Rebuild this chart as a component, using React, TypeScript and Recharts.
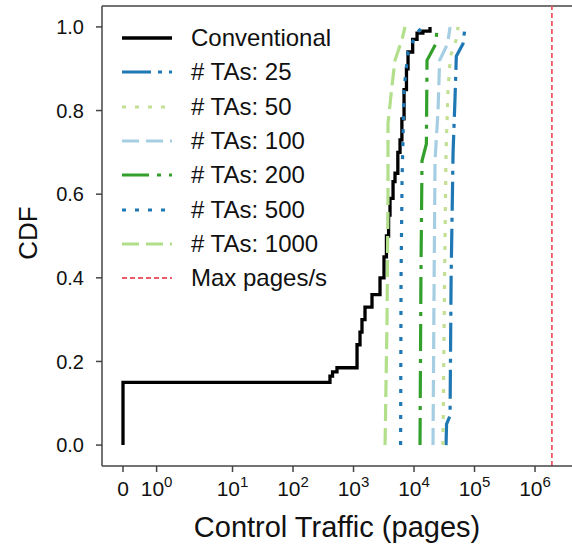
import { LineChart, Line, XAxis, YAxis, ReferenceLine, Legend } from 'recharts'

// symlog x axis (linthresh 2, linscale 1), done by hand since recharts has no symlog
const LINTHRESH = 2
const LINSCALE = 1 / 0.9
const symlog = (v: number) =>
  v <= LINTHRESH ? (v / LINTHRESH) * LINSCALE : LINSCALE + Math.log10(v / LINTHRESH)

const xTickValues = [0, 1, 10, 100, 1000, 10000, 100000, 1000000]
const xTickExponents = ['', '0', '1', '2', '3', '4', '5', '6']
const yTicks = [0, 0.2, 0.4, 0.6, 0.8, 1.0]
const maxPagesPerSec = 1.9e6

// [pages, cdf]
const conventional: [number, number][] = [
  [0, 0], [0, 0.15], [408, 0.165], [450, 0.175], [533, 0.185], [1143, 0.24], [1280, 0.27],
  [1380, 0.3], [1548, 0.33], [2020, 0.36], [2740, 0.4], [3190, 0.45], [3500, 0.5], [3800, 0.55],
  [4010, 0.59], [4500, 0.63], [4850, 0.65], [5400, 0.7], [5870, 0.73], [6300, 0.78],
  [6840, 0.85], [7500, 0.9], [7960, 0.94], [9500, 0.97], [11220, 0.985], [14000, 0.99], [18370, 1.0],
]
const tas25: [number, number][] = [
  [33800, 0], [34500, 0.05], [39400, 0.07], [41000, 0.4], [44200, 0.7], [47600, 0.83],
  [50000, 0.93], [64500, 0.96], [69700, 1.0],
]
const tas50: [number, number][] = [
  [30100, 0], [32000, 0.4], [33800, 0.7], [36500, 0.85], [40000, 0.93], [50000, 0.97], [53300, 1.0],
]
const tas100: [number, number][] = [
  [20600, 0], [21500, 0.4], [22240, 0.68], [24940, 0.8], [26500, 0.92], [36000, 0.96], [39400, 1.0],
]
const tas200: [number, number][] = [
  [12560, 0], [13000, 0.4], [13550, 0.68], [16000, 0.72], [16400, 0.92], [23000, 0.96], [24000, 1.0],
]
const tas500: [number, number][] = [
  [6000, 0], [6100, 0.4], [6340, 0.63], [6840, 0.85], [7960, 0.94], [11000, 0.985], [14000, 1.0],
]
const tas1000: [number, number][] = [
  [3320, 0], [3580, 0.3], [3716, 0.6], [3716, 0.77], [4330, 0.86], [4850, 0.92], [6340, 0.97], [7100, 1.0],
]

const series = [
  { name: 'Conventional', pts: conventional, color: '#000000', dash: undefined, width: 3.3, step: true },
  { name: '# TAs: 25', pts: tas25, color: '#1f78b4', dash: '29 7 4 7', width: 3.2, step: false },
  { name: '# TAs: 50', pts: tas50, color: '#c2df94', dash: '4 9', width: 3.2, step: false },
  { name: '# TAs: 100', pts: tas100, color: '#a6cee3', dash: '17 7', width: 3.2, step: false },
  { name: '# TAs: 200', pts: tas200, color: '#33a02c', dash: '27 8 4 8', width: 3.2, step: false },
  { name: '# TAs: 500', pts: tas500, color: '#1f78b4', dash: '4 9', width: 3.2, step: false },
  { name: '# TAs: 1000', pts: tas1000, color: '#b2df8a', dash: '17 7', width: 3.2, step: false },
]

const RED = '#ee5b68'
const AXIS = '#444'
const FONT = '"Liberation Sans", Arial, sans-serif'

function XTick(props: any) {
  const { x, y, index } = props
  const exp = xTickExponents[index]
  return (
    <text x={x} y={y + 22} textAnchor="middle" fontSize={21} fill="#111" fontFamily={FONT}>
      {exp === '' ? (
        '0'
      ) : (
        <>
          <tspan>10</tspan>
          <tspan dy={-9} fontSize={15}>{exp}</tspan>
        </>
      )}
    </text>
  )
}

function LegendBox() {
  const items = [
    ...series.map((s) => ({ name: s.name, color: s.color, dash: s.dash, width: s.width })),
    { name: 'Max pages/s', color: RED, dash: '5 3', width: 1.8 },
  ]
  return (
    <div style={{ fontFamily: FONT, fontSize: 24, color: '#111' }}>
      {items.map((it) => (
        <div key={it.name} style={{ display: 'flex', alignItems: 'center', height: 34.3 }}>
          <svg width={50} height={10} style={{ display: 'block' }}>
            <line x1={0} y1={5} x2={50} y2={5} stroke={it.color} strokeWidth={it.width} strokeDasharray={it.dash} />
          </svg>
          <span style={{ marginLeft: 19, whiteSpace: 'nowrap', lineHeight: '26px' }}>{it.name}</span>
        </div>
      ))}
    </div>
  )
}

export default function App() {
  return (
    <div style={{ position: 'absolute', left: 0, top: 0, fontFamily: FONT }}>
      <LineChart width={572} height={546} margin={{ top: 6, right: 0, left: 0, bottom: 0 }}>
        <XAxis
          type="number"
          dataKey="x"
          domain={[-0.347, 7.421]}
          allowDataOverflow
          ticks={xTickValues.map(symlog)}
          tick={<XTick />}
          interval={0}
          height={80}
          tickSize={6}
          stroke={AXIS}
          strokeWidth={1.5}
          label={{
            content: () => (
              <text x={337} y={537} textAnchor="middle" fontSize={29} fill="#111" fontFamily={FONT}>
                Control Traffic (pages)
              </text>
            ),
          }}
        />
        <YAxis
          type="number"
          domain={[-0.05, 1.05]}
          ticks={yTicks}
          tickFormatter={(v: number) => v.toFixed(1)}
          width={102}
          tickSize={6}
          tickMargin={12}
          interval={0}
          stroke={AXIS}
          strokeWidth={1.5}
          tick={{ fill: '#111', fontSize: 20, fontFamily: FONT }}
          label={{
            content: () => (
              <text
                x={28}
                y={233}
                transform="rotate(-90 28 233)"
                textAnchor="middle"
                dominantBaseline="central"
                fontSize={26}
                fill="#111"
                fontFamily={FONT}
              >
                CDF
              </text>
            ),
          }}
        />
        <ReferenceLine y={1.05} stroke={AXIS} strokeWidth={1.5} />
        {series.map((s) => (
          <Line
            key={s.name}
            data={s.pts.map(([v, c]) => ({ x: symlog(v), y: c }))}
            dataKey="y"
            name={s.name}
            type={s.step ? 'stepAfter' : 'linear'}
            stroke={s.color}
            strokeWidth={s.width}
            strokeDasharray={s.dash}
            dot={false}
            activeDot={false}
            isAnimationActive={false}
          />
        ))}
        <ReferenceLine x={symlog(maxPagesPerSec)} stroke={RED} strokeWidth={1.8} strokeDasharray="5 3" />
        <Legend
          layout="vertical"
          align="center"
          verticalAlign="middle"
          wrapperStyle={{ left: 122, top: 21 }}
          content={() => <LegendBox />}
        />
      </LineChart>
    </div>
  )
}
